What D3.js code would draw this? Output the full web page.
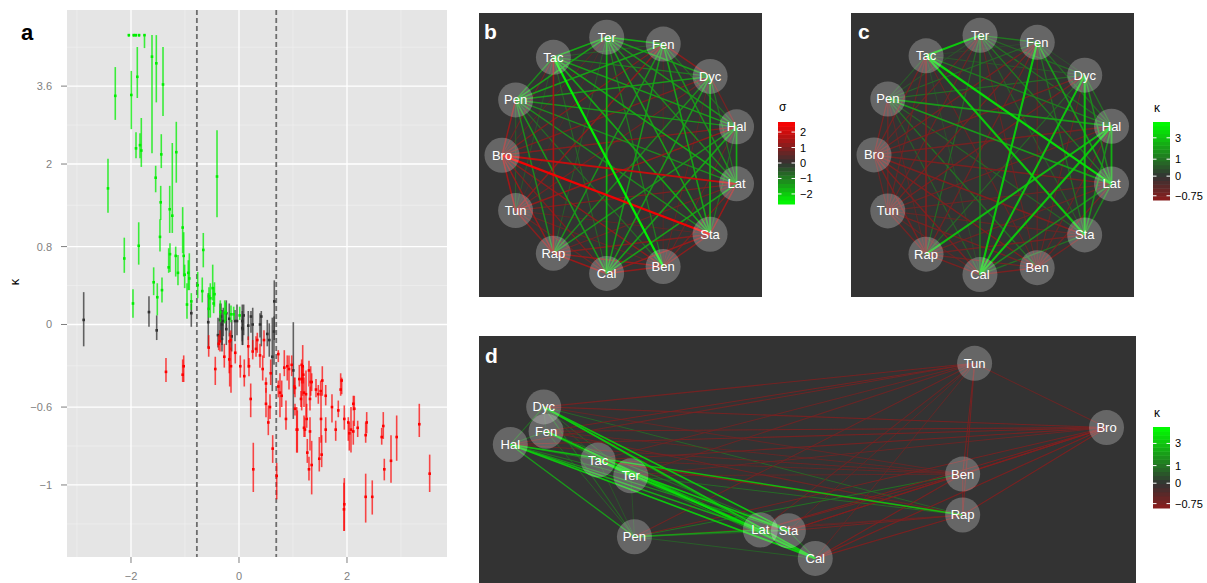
<!DOCTYPE html>
<html lang="en">
<head>
<meta charset="UTF-8">
<title>Kappa estimates and networks</title>
<script src="https://d3js.org/d3.v7.min.js"></script>
<style>
  body { margin: 0; background: #fff; }
  text { font-family: "Liberation Sans", Arial, sans-serif; }
</style>
</head>
<body>
<div id="fig"></div>
<script>
// ---- panel a data: [x, kappa, lower, upper] ----
const greenPts = [
  [-2.04,4.98,4.93,4.98],[-1.95,4.98,4.93,4.98],[-1.91,4.98,4.93,4.98],[-1.85,4.98,4.93,4.98],[-1.75,4.98,4.6,4.98],
  [-1.611,4.36,2.19,4.98],[-1.531,4.18,3.22,4.98],[-1.407,3.64,2.92,4.63],[-1.883,3.83,3.32,4.63],
  [-2.291,3.37,2.84,4.08],[-1.994,3.39,2.65,3.98],[-1.907,2.28,2.10,2.59],[-1.833,2.34,2.10,2.57],
  [-1.809,2.24,1.95,2.88],[-1.439,2.17,1.93,2.55],[-1.161,2.21,1.69,2.80],[-2.426,1.60,1.24,2.09],
  [-1.543,1.77,1.54,1.97],[-1.450,1.39,1.14,1.64],[-1.283,1.29,0.97,1.64],[-1.235,1.20,0.97,2.38],
  [-0.407,1.79,1.18,2.63],[-1.043,1.04,0.72,1.32],[-1.857,0.81,0.59,1.11],[-2.124,0.66,0.50,0.91],
  [-1.463,0.92,0.74,1.15],[-1.278,0.71,0.51,0.84],[-1.302,0.56,0.50,0.78],[-1.172,0.69,0.46,0.80],
  [-1.130,0.50,0.37,0.70],[-1.024,0.69,0.46,0.98],[-1.006,0.48,0.34,0.59],[-0.939,0.50,0.32,0.64],
  [-0.920,0.44,0.32,0.72],[-1.580,0.40,0.27,0.56],[-1.426,0.32,0.20,0.45],[-1.513,0.25,0.08,0.39],
  [-1.963,0.19,0.06,0.33],[-0.963,0.18,0.05,0.39],[-0.883,0.21,0.13,0.29],[-0.661,0.76,0.56,0.97],
  [-0.765,0.37,0.24,0.51],[-0.680,0.31,0.20,0.45],[-0.487,0.34,0.22,0.59],[-0.531,0.24,0.06,0.39],
  [-0.561,0.14,0.06,0.29],[-0.469,0.19,0.10,0.35],[-0.346,0.11,0.02,0.22],[-0.265,0.10,0.01,0.22],
  [-0.098,0.09,0.04,0.16],[0.013,0.08,0.04,0.16],[-0.246,0.11,0.03,0.20],[-0.148,0.09,0.02,0.17],
  [-0.556,0.26,0.15,0.35],[-0.454,0.28,0.16,0.40]
];
const greyPts = [
  [-2.876,0.04,-0.18,0.30],[-1.667,0.11,-0.02,0.26],[-1.524,-0.05,-0.13,0.08],[-0.883,0.10,-0.02,0.19],
  [-0.569,0.02,-0.19,0.29],[-0.333,0.07,-0.11,0.19],[-0.315,0.00,-0.17,0.13],[-0.235,0.10,-0.03,0.22],
  [-0.235,-0.04,-0.17,0.10],[-0.180,0.05,-0.10,0.19],[-0.135,-0.10,-0.22,0.04],[-0.037,0.03,-0.09,0.18],
  [0.061,-0.03,-0.17,0.18],[0.087,0.08,-0.09,0.18],[-0.389,-0.09,-0.19,0.06],[-0.315,-0.12,-0.22,0.03],
  [-0.352,0.04,-0.13,0.19],[-0.291,0.03,-0.10,0.15],[-0.074,0.03,-0.14,0.13],[0.061,0.03,-0.14,0.12],
  [0.069,-0.04,-0.17,0.08],[0.172,-0.01,-0.13,0.12],[0.222,0.07,-0.07,0.12],[0.254,0.00,-0.21,0.15],
  [0.389,0.00,-0.11,0.10],[0.413,0.07,-0.18,0.12],[0.524,-0.08,-0.18,0.04],[0.561,-0.13,-0.26,0.01],
  [0.654,0.21,-0.13,0.42],[0.648,-0.06,-0.32,0.07],[0.617,-0.26,-0.50,0.06],[1.006,-0.36,-0.67,0.02]
];
const redPts = [
  [-1.352,-0.37,-0.44,-0.27],[-1.024,-0.33,-0.44,-0.25],[-1.043,-0.39,-0.44,-0.28],[-0.561,-0.19,-0.26,-0.09],
  [-0.439,-0.35,-0.46,-0.26],[-0.376,-0.16,-0.21,-0.09],[-0.272,-0.26,-0.34,-0.16],[-0.172,-0.14,-0.47,-0.07],
  [-0.180,-0.28,-0.38,-0.13],[-0.148,-0.33,-0.51,-0.19],[-0.069,-0.23,-0.31,-0.16],[0.024,-0.33,-0.41,-0.25],
  [0.098,-0.40,-0.47,-0.28],[-0.352,-0.14,-0.22,-0.05],[-0.154,-0.13,-0.21,-0.05],[0.172,-0.18,-0.34,-0.10],
  [0.185,-0.33,-0.40,-0.27],[0.217,-0.55,-0.66,-0.45],[0.254,-0.22,-0.28,-0.13],[0.315,-0.20,-0.26,-0.10],
  [0.339,-0.13,-0.23,-0.07],[0.389,-0.25,-0.34,-0.16],[0.439,-0.35,-0.43,-0.25],[0.463,-0.13,-0.27,-0.05],
  [0.500,-0.45,-0.51,-0.41],[0.500,-0.58,-0.66,-0.48],[0.543,-0.69,-0.76,-0.59],[0.574,-0.60,-0.67,-0.52],
  [0.587,-0.38,-0.46,-0.28],[0.624,-0.83,-0.90,-0.76],[0.698,-0.96,-1.06,-0.90],[0.265,-0.93,-1.03,-0.80],
  [0.728,-0.24,-0.30,-0.21],[0.728,-0.47,-0.54,-0.43],[0.759,-0.51,-0.66,-0.38],[0.791,-0.53,-0.60,-0.43],
  [0.839,-0.34,-0.40,-0.21],[0.870,-0.67,-0.73,-0.56],[0.894,-0.33,-0.43,-0.25],[0.926,-0.35,-0.49,-0.25],
  [0.976,-0.32,-0.40,-0.25],[1.024,-0.47,-0.52,-0.41],[1.069,-0.73,-0.85,-0.60],[1.117,-0.42,-0.47,-0.32],
  [1.161,-0.32,-0.45,-0.28],[1.191,-0.39,-0.45,-0.33],[1.204,-0.51,-0.60,-0.41],[1.222,-0.73,-0.77,-0.66],
  [1.254,-0.67,-0.72,-0.58],[1.265,-0.85,-0.90,-0.78],[1.296,-0.93,-0.98,-0.87],[1.346,-0.44,-0.50,-0.38],
  [1.426,-0.49,-0.54,-0.42],[1.469,-0.52,-0.58,-0.46],[1.037,-0.48,-0.54,-0.41],[1.037,-0.61,-0.65,-0.58],
  [1.080,-0.73,-0.85,-0.62],[1.161,-0.42,-0.62,-0.32],[1.148,-0.55,-0.60,-0.50],[1.180,-0.33,-0.53,-0.17],
  [1.204,-0.72,-0.77,-0.65],[1.241,-0.52,-0.66,-0.36],[1.296,-0.36,-0.47,-0.29],[1.315,-0.55,-0.62,-0.47],
  [1.328,-0.44,-0.53,-0.33],[1.315,-0.74,-0.84,-0.66],[1.346,-0.91,-1.04,-0.79],[1.487,-0.88,-0.94,-0.77],
  [1.513,-0.50,-0.53,-0.43],[1.519,-0.67,-0.80,-0.51],[1.543,-0.43,-0.53,-0.33],[1.531,-0.86,-0.92,-0.76],
  [1.606,-0.53,-0.59,-0.46],[1.606,-0.73,-0.80,-0.66],[1.722,-0.60,-0.69,-0.52],[1.791,-0.73,-0.79,-0.68],
  [1.839,-0.62,-0.66,-0.56],[1.883,-0.49,-0.53,-0.38],[1.902,-0.43,-0.52,-0.41],[1.950,-0.67,-0.73,-0.59],
  [1.950,-1.08,-1.18,-0.97],[1.944,-1.10,-1.18,-0.99],[2.024,-0.69,-0.79,-0.66],[2.043,-0.75,-0.84,-0.69],
  [2.074,-0.73,-0.85,-0.60],[2.117,-0.58,-0.62,-0.53],[2.135,-0.61,-0.71,-0.53],[2.117,-0.74,-0.81,-0.68],
  [2.198,-0.72,-0.77,-0.68],[2.346,-0.76,-0.80,-0.69],[2.365,-0.69,-0.75,-0.63],[2.346,-1.05,-1.15,-0.95],
  [2.468,-1.05,-1.12,-0.98],[2.643,-0.77,-0.81,-0.72],[2.672,-0.71,-0.78,-0.63],[2.691,-0.93,-0.98,-0.88],
  [2.815,-0.89,-0.99,-0.76],[2.920,-0.77,-0.89,-0.65],[3.339,-0.70,-0.77,-0.58],[3.531,-0.95,-1.03,-0.86]
];
const xTicks = [-2, 0, 2];
const xTickLabels = ["\u22122", "0", "2"];
const yTicks = [-1, -0.6, 0, 0.8, 2, 3.6];
const yTickLabels = ["\u22121", "\u22120.6", "0", "0.8", "2", "3.6"];
const cutoffs = [-0.78, 0.69];

// ---- network data ----
const nodes = ["Ter","Fen","Dyc","Hal","Lat","Sta","Ben","Cal","Rap","Tun","Bro","Pen","Tac"];

const sigmaEdges = [
  ["Ter","Fen",-1.6],["Ter","Dyc",-1.4],["Ter","Hal",-1.3],["Ter","Lat",-1.2],["Ter","Sta",-1.5],["Ter","Ben",-1.0],["Ter","Cal",-1.8],["Ter","Rap",-0.6],["Ter","Tun",0.4],["Ter","Bro",0.6],["Ter","Pen",-1.5],["Ter","Tac",-1.6],
  ["Fen","Dyc",1.2],["Fen","Hal",-0.8],["Fen","Lat",-1.3],["Fen","Sta",-1.5],["Fen","Ben",0.5],["Fen","Cal",-1.4],["Fen","Rap",-1.3],["Fen","Tun",1.2],["Fen","Bro",1.0],["Fen","Pen",-1.5],["Fen","Tac",-0.6],
  ["Dyc","Hal",0.9],["Dyc","Lat",-0.9],["Dyc","Sta",-1.7],["Dyc","Ben",0.6],["Dyc","Cal",-1.4],["Dyc","Rap",-1.2],["Dyc","Tun",0.8],["Dyc","Bro",1.0],["Dyc","Pen",-1.4],["Dyc","Tac",-1.0],
  ["Hal","Lat",-1.7],["Hal","Sta",-0.8],["Hal","Ben",0.7],["Hal","Cal",-1.5],["Hal","Rap",-1.3],["Hal","Tun",1.3],["Hal","Bro",1.1],["Hal","Pen",-1.3],["Hal","Tac",-1.4],
  ["Lat","Sta",1.4],["Lat","Ben",1.0],["Lat","Cal",-1.5],["Lat","Rap",0.8],["Lat","Tun",1.0],["Lat","Bro",2.0],["Lat","Pen",-1.2],["Lat","Tac",-1.6],
  ["Sta","Ben",1.2],["Sta","Cal",1.3],["Sta","Rap",1.1],["Sta","Tun",0.6],["Sta","Bro",2.6],["Sta","Pen",-1.2],["Sta","Tac",-1.6],
  ["Ben","Cal",1.3],["Ben","Rap",1.3],["Ben","Tun",0.7],["Ben","Bro",1.2],["Ben","Pen",-0.8],["Ben","Tac",-2.6],
  ["Cal","Rap",1.4],["Cal","Tun",0.8],["Cal","Bro",1.0],["Cal","Pen",-1.4],["Cal","Tac",-0.7],
  ["Rap","Tun",1.2],["Rap","Bro",1.3],["Rap","Pen",-1.2],["Rap","Tac",1.6],
  ["Tun","Bro",1.5],["Tun","Pen",-0.6],["Tun","Tac",-0.5],
  ["Bro","Pen",1.3],["Bro","Tac",0.8],
  ["Pen","Tac",-1.2]
];

const kappaEdges = [
  ["Ter","Fen",1.2],["Ter","Dyc",0.8],["Ter","Hal",1.0],["Ter","Lat",1.2],["Ter","Sta",0.7],["Ter","Ben",-0.55],["Ter","Cal",1.3],["Ter","Rap",0.9],["Ter","Tun",-0.6],["Ter","Bro",-0.6],["Ter","Pen",0.5],["Ter","Tac",3.5],
  ["Fen","Dyc",0.4],["Fen","Hal",0.9],["Fen","Lat",2.0],["Fen","Sta",1.0],["Fen","Ben",-0.55],["Fen","Cal",3.5],["Fen","Rap",-0.65],["Fen","Tun",-0.7],["Fen","Bro",-0.7],["Fen","Pen",0.8],["Fen","Tac",0.3],
  ["Dyc","Hal",1.0],["Dyc","Lat",1.5],["Dyc","Sta",3.2],["Dyc","Ben",-0.55],["Dyc","Cal",3.3],["Dyc","Rap",0.8],["Dyc","Tun",-0.7],["Dyc","Bro",-0.7],["Dyc","Pen",0.9],["Dyc","Tac",0.6],
  ["Hal","Lat",2.5],["Hal","Sta",1.6],["Hal","Ben",-0.6],["Hal","Cal",3.4],["Hal","Rap",3.0],["Hal","Tun",-0.65],["Hal","Bro",-0.7],["Hal","Pen",2.0],["Hal","Tac",1.2],
  ["Lat","Sta",1.4],["Lat","Ben",-0.7],["Lat","Cal",1.5],["Lat","Rap",-0.6],["Lat","Tun",-0.6],["Lat","Bro",-0.75],["Lat","Pen",2.0],["Lat","Tac",4.2],
  ["Sta","Ben",-0.7],["Sta","Cal",1.0],["Sta","Rap",-0.7],["Sta","Tun",-0.55],["Sta","Bro",-0.8],["Sta","Pen",0.8],["Sta","Tac",3.5],
  ["Ben","Cal",-0.75],["Ben","Rap",-0.7],["Ben","Tun",-0.7],["Ben","Bro",-0.75],["Ben","Pen",1.0],["Ben","Tac",-0.55],
  ["Cal","Rap",-0.75],["Cal","Tun",-0.55],["Cal","Bro",-0.75],["Cal","Pen",0.7],["Cal","Tac",0.4],
  ["Rap","Tun",-0.7],["Rap","Bro",-0.75],["Rap","Pen",-0.5],["Rap","Tac",-0.85],
  ["Tun","Bro",-0.6],["Tun","Pen",-0.65],["Tun","Tac",-0.6],
  ["Bro","Pen",-0.7],["Bro","Tac",-0.7],
  ["Pen","Tac",0.6]
];

// panel d layout coordinates (0-100 units)
const layoutD = {
  Tun:[77.9,0], Bro:[100,33.0], Dyc:[5.7,22.4], Fen:[6.1,34.9], Hal:[0.1,41.7],
  Tac:[14.8,49.7], Ter:[20.3,57.8], Ben:[75.9,56.9], Rap:[75.9,77.9], Pen:[20.9,89.1],
  Lat:[42.0,85.6], Sta:[46.7,86.0], Cal:[51.2,100.2]
};

const sigmaLegendTicks = [2, 1, 0, -1, -2];
const sigmaLegendLabels = ["2", "1", "0", "\u22121", "\u22122"];
const kappaLegendTicks = [3, 1, 0, -0.75];
const kappaLegendLabels = ["3", "1", "0", "\u22120.75"];

// ---------------------------------------------------------------
const width = 1207, height = 583;
const svg = d3.select("#fig").append("svg")
  .attr("width", width).attr("height", height);

// ---- panel a ----
const pa = { left: 67, right: 447, top: 10, bottom: 557 };
const xA = d3.scaleLinear().domain([-3.185, 3.852]).range([pa.left, pa.right]);
// kappa plotted on log2(kappa + 2)
const yA = d3.scaleLog().base(2).domain([0.7326, 7.78]).range([pa.bottom, pa.top]);
const yK = k => yA(k + 2);

const ga = svg.append("g");
ga.append("rect").attr("x", pa.left).attr("y", pa.top)
  .attr("width", pa.right - pa.left).attr("height", pa.bottom - pa.top)
  .attr("fill", "#e5e5e5");

// minor grid
const xMinor = [-3, -1, 1, 3];
ga.selectAll(".xminor").data(xMinor).enter().append("line")
  .attr("x1", d => xA(d)).attr("x2", d => xA(d))
  .attr("y1", pa.top).attr("y2", pa.bottom)
  .attr("stroke", "#f2f2f2").attr("stroke-width", 0.6);
const yMajPix = yTicks.map(yK);
const yMinorPix = [];
for (let i = 0; i < yMajPix.length - 1; i++) yMinorPix.push((yMajPix[i] + yMajPix[i + 1]) / 2);
yMinorPix.push(yMajPix[0] + (yMajPix[0] - yMinorPix[0]));
yMinorPix.push(yMajPix[yMajPix.length - 1] - (yMinorPix[yMinorPix.length - 2] - yMajPix[yMajPix.length - 1]));
ga.selectAll(".yminor").data(yMinorPix.filter(p => p > pa.top && p < pa.bottom)).enter().append("line")
  .attr("x1", pa.left).attr("x2", pa.right)
  .attr("y1", d => d).attr("y2", d => d)
  .attr("stroke", "#f2f2f2").attr("stroke-width", 0.6);

// major grid
ga.selectAll(".xmajor").data(xTicks).enter().append("line")
  .attr("x1", d => xA(d)).attr("x2", d => xA(d))
  .attr("y1", pa.top).attr("y2", pa.bottom)
  .attr("stroke", "#ffffff").attr("stroke-width", 1.3);
ga.selectAll(".ymajor").data(yTicks).enter().append("line")
  .attr("x1", pa.left).attr("x2", pa.right)
  .attr("y1", d => yK(d)).attr("y2", d => yK(d))
  .attr("stroke", "#ffffff").attr("stroke-width", 1.3);

// cutoff lines
ga.selectAll(".cut").data(cutoffs).enter().append("line")
  .attr("x1", d => xA(d)).attr("x2", d => xA(d))
  .attr("y1", pa.top).attr("y2", pa.bottom)
  .attr("stroke", "#6e6e6e").attr("stroke-width", 1.8)
  .attr("stroke-dasharray", "5,3");

function drawPoints(data, col, barOpacity) {
  const g = ga.append("g");
  g.selectAll("line").data(data).enter().append("line")
    .attr("x1", d => xA(d[0])).attr("x2", d => xA(d[0]))
    .attr("y1", d => yK(d[2])).attr("y2", d => yK(d[3]))
    .attr("stroke", col).attr("stroke-opacity", barOpacity).attr("stroke-width", 1.6);
  g.selectAll("rect").data(data).enter().append("rect")
    .attr("x", d => xA(d[0]) - 1.3).attr("y", d => yK(d[1]) - 1.3)
    .attr("width", 2.6).attr("height", 2.6).attr("fill", col);
}
drawPoints(greyPts, "#333333", 0.75);
drawPoints(greenPts, "#00ee00", 0.75);
drawPoints(redPts, "#ff0000", 0.7);

// axes
const axisCol = "#7f7f7f";
ga.selectAll(".xt").data(xTicks).enter().append("line")
  .attr("x1", d => xA(d)).attr("x2", d => xA(d))
  .attr("y1", pa.bottom).attr("y2", pa.bottom + 6)
  .attr("stroke", axisCol).attr("stroke-width", 1);
ga.selectAll(".xl").data(xTicks).enter().append("text")
  .attr("x", d => xA(d)).attr("y", pa.bottom + 23)
  .attr("text-anchor", "middle").attr("font-size", 11).attr("fill", axisCol)
  .text((d, i) => xTickLabels[i]);
ga.selectAll(".yt").data(yTicks).enter().append("line")
  .attr("x1", pa.left - 6).attr("x2", pa.left)
  .attr("y1", d => yK(d)).attr("y2", d => yK(d))
  .attr("stroke", axisCol).attr("stroke-width", 1);
ga.selectAll(".yl").data(yTicks).enter().append("text")
  .attr("x", pa.left - 15).attr("y", d => yK(d) + 4)
  .attr("text-anchor", "end").attr("font-size", 11).attr("fill", axisCol)
  .text((d, i) => yTickLabels[i]);
ga.append("text").attr("transform", "translate(19,282) rotate(-90)")
  .attr("text-anchor", "middle").attr("font-size", 13).attr("fill", "#000")
  .text("\u03ba");
ga.append("text").attr("x", 21).attr("y", 40)
  .attr("font-size", 22).attr("font-weight", "bold").text("a");

// ---- colour scales (rgb blend from grey20 at zero) ----
const sigMax = 2.65;
const toRed = d3.interpolateRgb("#333333", "#ff0000");
const toGreen = d3.interpolateRgb("#333333", "#00ff00");
function sigColor(v) {
  const f = Math.min(Math.abs(v) / sigMax, 1);
  return v >= 0 ? toRed(f) : toGreen(f);
}
const kLo = -0.87, kHi = 5.3;
const kT = k => Math.log2(k + 2) - 1;
const kMaxDist = Math.max(kT(kHi), -kT(kLo));
function kapColor(k) {
  const t = kT(k);
  const f = Math.min(Math.abs(t) / kMaxDist, 1);
  return t >= 0 ? toGreen(f) : toRed(f);
}
const sigWidth = v => 0.7 + 0.6 * Math.abs(v);
const kapWidth = k => 0.8 + 0.9 * Math.abs(kT(k));

// ---- network drawing ----
function drawNet(g, pos, edges, colorFn, widthFn) {
  const sorted = edges.slice().sort((a, b) => widthFn(a[2]) - widthFn(b[2]));
  g.selectAll("line").data(sorted).enter().append("line")
    .attr("x1", d => pos[d[0]][0]).attr("y1", d => pos[d[0]][1])
    .attr("x2", d => pos[d[1]][0]).attr("y2", d => pos[d[1]][1])
    .attr("stroke", d => colorFn(d[2]))
    .attr("stroke-width", d => widthFn(d[2]))
    .attr("stroke-opacity", 0.95);
  const ng = g.selectAll(".node").data(nodes).enter().append("g");
  ng.append("circle").attr("cx", d => pos[d][0]).attr("cy", d => pos[d][1])
    .attr("r", 17.5).attr("fill", "#ffffff").attr("fill-opacity", 0.25);
  ng.append("text").attr("x", d => pos[d][0]).attr("y", d => pos[d][1] + 4.5)
    .attr("text-anchor", "middle").attr("font-size", 13).attr("fill", "#ffffff")
    .text(d => d);
}

function circlePos(cx, cy, r) {
  const pos = {};
  nodes.forEach((n, i) => {
    const a = (-96.9 + i * 360 / nodes.length) * Math.PI / 180;
    pos[n] = [cx + r * Math.cos(a), cy + r * Math.sin(a)];
  });
  return pos;
}

function panelBox(x, y, w, h) {
  const g = svg.append("g");
  g.append("rect").attr("x", x).attr("y", y).attr("width", w).attr("height", h)
    .attr("fill", "#333333");
  return g;
}
function panelLabel(label, lx, ly) {
  svg.append("text").attr("x", lx).attr("y", ly)
    .attr("font-size", 21).attr("font-weight", "bold").attr("fill", "#ffffff").text(label);
}

// panel b
const gb = panelBox(479, 13, 283, 284);
drawNet(gb, circlePos(621, 155.3, 119), sigmaEdges, sigColor, sigWidth);
panelLabel("b", 484, 39);

// panel c
const gc = panelBox(851, 13, 283, 284);
drawNet(gc, circlePos(994.5, 155, 120.5), kappaEdges, kapColor, kapWidth);
panelLabel("c", 858, 39);

// panel d
const gd = panelBox(479, 336, 657, 247);
const xD = d3.scaleLinear().domain([0, 100]).range([509.7, 1106.5]);
const yD = d3.scaleLinear().domain([0, 100]).range([363.3, 558]);
const posD = {};
nodes.forEach(n => { posD[n] = [xD(layoutD[n][0]), yD(layoutD[n][1])]; });
drawNet(gd, posD, kappaEdges, kapColor, k => 0.8 * kapWidth(k));
panelLabel("d", 485, 363);

// ---- legends ----
function drawBar(x, top, bottom, title, tScale, toValue, colorFn, ticks, labels, titleDy) {
  const g = svg.append("g");
  const nbin = 20;
  const d0 = tScale.domain();
  const step = (d0[1] - d0[0]) / nbin;
  const bins = d3.range(nbin).map(i => d0[0] + (i + 0.5) * step);
  g.selectAll("rect").data(bins).enter().append("rect")
    .attr("x", x).attr("width", 17)
    .attr("y", d => tScale(d + step / 2))
    .attr("height", d => tScale(d - step / 2) - tScale(d + step / 2) + 0.5)
    .attr("fill", d => colorFn(toValue(d)));
  const ty = v => tScale(toValue.inverse(v));
  g.selectAll(".tl").data(ticks).enter().append("line")
    .attr("x1", x).attr("x2", x + 3.5).attr("y1", ty).attr("y2", ty)
    .attr("stroke", "#fff").attr("stroke-width", 1);
  g.selectAll(".tr").data(ticks).enter().append("line")
    .attr("x1", x + 13.5).attr("x2", x + 17).attr("y1", ty).attr("y2", ty)
    .attr("stroke", "#fff").attr("stroke-width", 1);
  g.selectAll("text.lab").data(ticks).enter().append("text")
    .attr("x", x + 22).attr("y", d => ty(d) + 4)
    .attr("font-size", 11).attr("fill", "#000")
    .text((d, i) => labels[i]);
  g.append("text").attr("x", x + 1).attr("y", top - titleDy)
    .attr("font-size", 12).attr("fill", "#000").text(title);
}

// sigma legend: linear in sigma
const sigId = v => v; sigId.inverse = v => v;
drawBar(778, 122, 204, "\u03c3",
  d3.scaleLinear().domain([-sigMax, sigMax]).range([204, 122]),
  sigId, sigColor, sigmaLegendTicks, sigmaLegendLabels, 11);

// kappa legends: linear in log2(kappa + 2)
const fromT = t => Math.pow(2, t) - 2; fromT.inverse = k => Math.log2(k + 2);
const kRange = [Math.log2(kLo + 2), Math.log2(kHi + 2)];
drawBar(1153, 122, 200, "\u03ba",
  d3.scaleLinear().domain(kRange).range([200, 122]),
  fromT, kapColor, kappaLegendTicks, kappaLegendLabels, 10);
drawBar(1153, 427, 508, "\u03ba",
  d3.scaleLinear().domain(kRange).range([508, 427]),
  fromT, kapColor, kappaLegendTicks, kappaLegendLabels, 10);
</script>
</body>
</html>
